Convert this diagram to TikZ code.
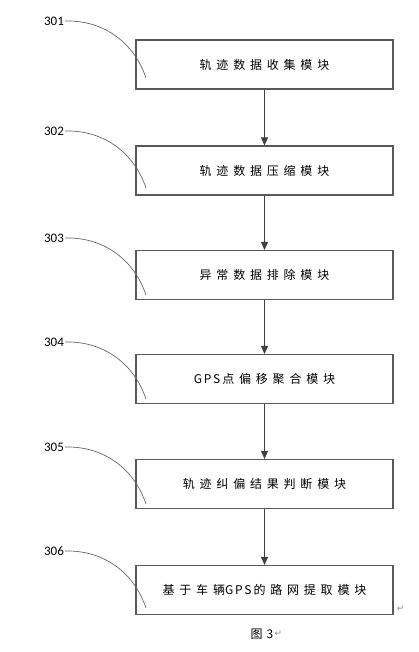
\documentclass[tikz,border=0pt]{standalone}
\usepackage{fontspec}
\setmainfont{Carlito}
\newfontfamily\cjk{Noto Sans CJK SC}[LetterSpace=40]
\newfontfamily\cjklat{Noto Sans CJK SC}[LetterSpace=15]
\newfontfamily\cjkcap{Noto Sans CJK SC}
\newfontfamily\sym{DejaVu Sans}
\usetikzlibrary{arrows.meta,calc}

\newcommand{\gpstxt}{{\cjklat GPS}\kern2pt}

\tikzset{
  modbox/.style={draw=black!65, line width=1.1pt, minimum width=257pt,
    minimum height=49pt, inner sep=0pt, font=\cjk\fontsize{12}{14}\selectfont},
  flow/.style={draw=black!75, line width=0.8pt, -{Triangle[length=8pt,width=7pt]}},
  lab/.style={font=\fontsize{13}{15}\selectfont, inner sep=1pt},
  leader/.style={draw=black!60, line width=0.7pt},
  pmark/.style={text=black!45, font=\sym\fontsize{9}{10}\selectfont, inner sep=0pt}
}

\begin{document}
\begin{tikzpicture}[x=1pt, y=-1pt]
    \useasboundingbox (0,0) rectangle (418,652);

    % module boxes
    \node[modbox] (m1) at (264.5,64.5)  {轨迹数据收集模块};
    \node[modbox] (m2) at (264.5,170.5) {轨迹数据压缩模块};
    \node[modbox] (m3) at (264.5,275)   {异常数据排除模块};
    \node[modbox] (m4) at (264.5,379)   {\gpstxt 点偏移聚合模块};
    \node[modbox] (m5) at (264.5,484)   {轨迹纠偏结果判断模块};
    \node[modbox] (m6) at (264.5,590)   {基于车辆\gpstxt 的路网提取模块};

    \foreach \i/\j in {1/2,2/3,3/4,4/5,5/6}
        \draw[flow] (m\i) -- (m\j);

    % reference numbers with leader curves
    \foreach \i/\y in {1/21,2/131,3/238,4/342,5/447,6/551} {
        \node[lab] (l\i) at (54,\y) {30\i};
        \coordinate (e\i) at (146,\y+57);
        \draw[leader] (l\i.east) .. controls +(41,-1) and +(-11,-33) .. (e\i);
    }

    \node[pmark, anchor=west] (p1) at ($(m6.south east)+(3,-6)$) {↵};
    \node[font=\cjkcap\fontsize{12}{14}\selectfont, inner sep=1pt] (cap) at (262,634) {图\kern4pt 3};
    \node[pmark, anchor=west] (p2) at (cap.east) {↵};
\end{tikzpicture}
\end{document}
